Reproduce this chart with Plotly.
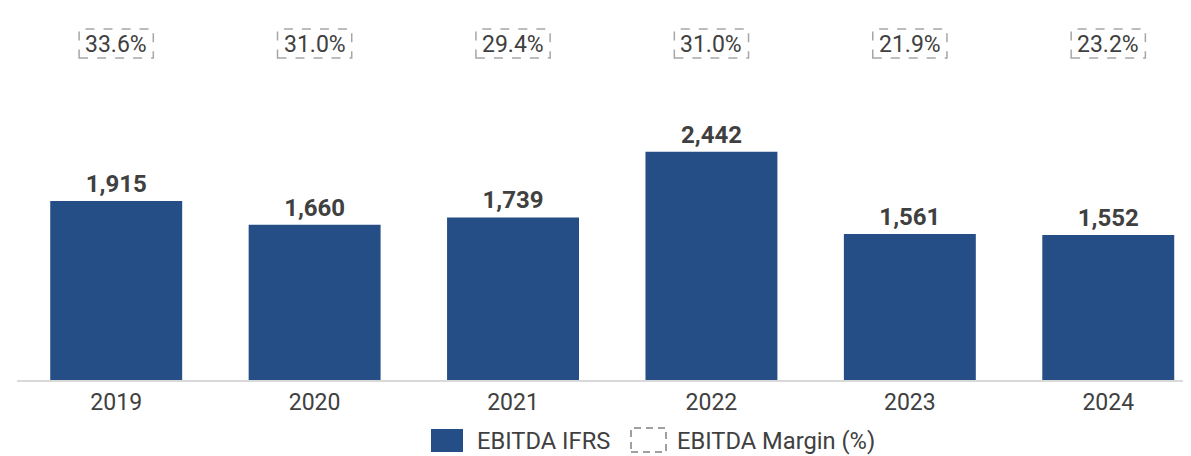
import plotly.graph_objects as go

years = ["2019", "2020", "2021", "2022", "2023", "2024"]
ebitda = [1915, 1660, 1739, 2442, 1561, 1552]
margin = [33.6, 31.0, 29.4, 31.0, 21.9, 23.2]

blue = "#264E86"
txt = "#404040"
font = "Roboto"

# page body has an 8px margin, so figure is drawn at (8, 8)
W, H = 1183, 448
L, B = 9, 76
PW, PH = W - L, H - B


def px(sx):
    return (sx - 8 - L) / PW


def py(sy):
    return (H - B - (sy - 8)) / PH


fig = go.Figure()
fig.add_trace(go.Bar(
    x=list(range(len(years))), y=ebitda, width=0.665,
    marker=dict(color=blue, line=dict(width=0)),
    texttemplate="<b>%{y:,}</b>", textposition="outside",
    textfont=dict(family=font, size=24, color=txt),
    cliponaxis=False, showlegend=False, hoverinfo="skip",
))

# margin labels in dashed boxes
for i, m in enumerate(margin):
    fig.add_annotation(x=i, y=py(44), xref="x", yref="paper", yanchor="middle",
                       text=f"{m:.1f}%", showarrow=False,
                       font=dict(family=font, size=23, color=txt))
    fig.add_shape(type="rect", xref="x", yref="paper", x0=i - 0.187, x1=i + 0.187,
                  y0=py(58), y1=py(29), line=dict(color="#a6a6a6", width=1.5, dash="dash"))

# legend drawn by hand
fig.add_shape(type="rect", xref="paper", yref="paper", x0=px(431), x1=px(463),
              y0=py(452), y1=py(429), fillcolor=blue, line=dict(width=0))
fig.add_annotation(x=px(475), y=py(441), xref="paper", yref="paper",
                   xanchor="left", yanchor="middle", text="EBITDA IFRS", showarrow=False,
                   font=dict(family=font, size=23.7, color=txt))
fig.add_shape(type="rect", xref="paper", yref="paper", x0=px(631), x1=px(666),
              y0=py(452), y1=py(428),
              line=dict(color="#404040", width=1, dash="7px,5px"))
fig.add_annotation(x=px(675), y=py(441), xref="paper", yref="paper",
                   xanchor="left", yanchor="middle", text="EBITDA Margin (%)", showarrow=False,
                   font=dict(family=font, size=23.7, color=txt))

fig.update_layout(
    width=W, height=H,
    margin=dict(l=L, r=0, t=0, b=B),
    plot_bgcolor="white", paper_bgcolor="white",
    font=dict(family=font, color=txt),
    xaxis=dict(range=[-0.5, 5.417], tickmode="array", tickvals=list(range(len(years))),
               ticktext=years, showgrid=False, zeroline=False, showline=True,
               linecolor="#d9d9d9", linewidth=2, ticks="",
               tickfont=dict(family=font, size=23, color=txt)),
    yaxis=dict(range=[0, PH / 0.0935], visible=False, showgrid=False),
)

fig.write_html("out.html")
